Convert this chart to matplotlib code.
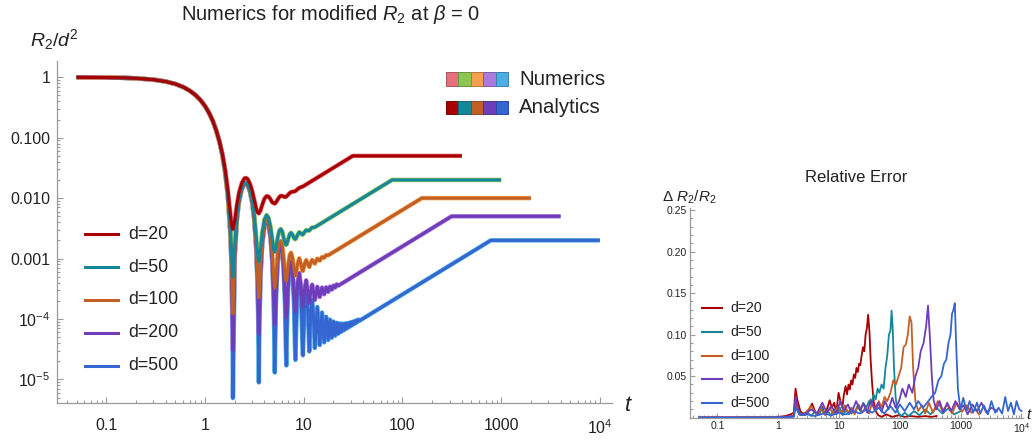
import matplotlib
matplotlib.use("Agg")
import matplotlib.pyplot as plt
import matplotlib.colors as mcolors
from matplotlib.patches import Rectangle
from matplotlib.lines import Line2D
from matplotlib.ticker import FixedLocator, FixedFormatter, LogLocator, NullFormatter, MultipleLocator

plt.rcParams['font.family'] = ['Liberation Sans', 'DejaVu Sans']
plt.rcParams['mathtext.fontset'] = 'custom'
plt.rcParams['mathtext.rm'] = 'Liberation Sans'
plt.rcParams['mathtext.it'] = 'Liberation Sans:italic'
plt.rcParams['mathtext.bf'] = 'Liberation Sans:bold'

# ------------------------------------------
# DATA  (t, R2/d^2)
# ------------------------------------------
labels = ["d=20", "d=50", "d=100", "d=200", "d=500"]
analytic_colors = ["#A80000", "#16879B", "#C25F24", "#6F3DB9", "#3565D0"]
numeric_colors = ["#E5707C", "#8DC553", "#F5A050", "#A97BDD", "#4CAFE3"]

early = [(0.05, 0.9975), (0.1, 0.990), (0.15, 0.978), (0.2, 0.961), (0.3, 0.913),
         (0.4, 0.850), (0.5, 0.775), (0.6, 0.690), (0.7, 0.599), (0.8, 0.508),
         (0.9, 0.418), (1.0, 0.333), (1.1, 0.256), (1.2, 0.188), (1.3, 0.131),
         (1.4, 0.086)]

d20 = [(1.5, 0.0535), (1.6, 0.0292), (1.7, 0.0138), (1.8, 0.00568), (1.85, 0.00379),
       (1.9, 0.00307), (1.916, 0.00305), (2.0, 0.00427), (2.1, 0.0077), (2.2, 0.0120),
       (2.35, 0.0176), (2.5, 0.0212), (2.6, 0.0216), (2.7, 0.0207), (2.85, 0.0174),
       (3.0, 0.0133), (3.15, 0.0094), (3.3, 0.0067), (3.4, 0.0058), (3.508, 0.00558),
       (3.65, 0.0063), (3.8, 0.0078), (4.0, 0.0098), (4.2, 0.0108), (4.4, 0.0106),
       (4.6, 0.0096), (4.8, 0.0085), (5.087, 0.0081), (5.25, 0.0086), (5.45, 0.0095),
       (5.65, 0.0104), (5.85, 0.0109), (6.05, 0.0109), (6.25, 0.0106), (6.45, 0.0104),
       (6.662, 0.0106), (6.95, 0.0114), (7.2, 0.0121), (7.43, 0.0126), (7.7, 0.0128),
       (7.95, 0.0128), (8.236, 0.0131), (8.6, 0.0139), (9.0, 0.0148), (9.4, 0.0152),
       (9.808, 0.0156), (31.4, 0.05), (400, 0.05)]

d50 = [(1.5, 0.0515), (1.6, 0.0271), (1.7, 0.0115), (1.8, 0.00328), (1.85, 0.00132),
       (1.9, 0.00053), (1.916, 0.000488), (2.0, 0.0016), (2.1, 0.0049), (2.2, 0.00906),
       (2.35, 0.0145), (2.5, 0.0178), (2.6, 0.0181), (2.7, 0.0170), (2.85, 0.0136),
       (3.0, 0.00927), (3.15, 0.0052), (3.3, 0.00227), (3.4, 0.00123), (3.45, 0.00098),
       (3.508, 0.000893), (3.56, 0.00098), (3.65, 0.00144), (3.8, 0.00272), (4.0, 0.00446),
       (4.2, 0.00523), (4.4, 0.00472), (4.6, 0.00341), (4.8, 0.00207), (4.95, 0.00145),
       (5.03, 0.00131), (5.087, 0.001295), (5.14, 0.001335), (5.25, 0.00156), (5.45, 0.00225),
       (5.65, 0.00288), (5.85, 0.00308), (6.05, 0.00281), (6.25, 0.00223), (6.45, 0.0018),
       (6.58, 0.00169), (6.662, 0.0017), (6.75, 0.00176), (6.95, 0.00208), (7.2, 0.00252),
       (7.43, 0.00267), (7.7, 0.00248), (7.95, 0.00219), (8.14, 0.00209), (8.236, 0.0021),
       (8.35, 0.00216), (8.6, 0.00242), (9.0, 0.00273), (9.4, 0.00259), (9.7, 0.00248),
       (9.808, 0.0025), (10.2, 0.00275), (10.58, 0.00296), (10.98, 0.00291), (11.38, 0.0029),
       (11.77, 0.0031), (12.16, 0.00327), (12.55, 0.00327), (12.952, 0.0033),
       (78.5, 0.02), (1000, 0.02)]

d100 = [(1.5, 0.0512), (1.6, 0.0268), (1.7, 0.0112), (1.8, 0.00294), (1.85, 0.00097),
        (1.9, 0.000166), (1.916, 0.000122), (2.0, 0.00122), (2.1, 0.00449), (2.2, 0.00864),
        (2.35, 0.01405), (2.5, 0.01733), (2.6, 0.01759), (2.7, 0.01653), (2.85, 0.01308),
        (3.0, 0.0087), (3.15, 0.0046), (3.3, 0.00164), (3.4, 0.000584), (3.45, 0.000323),
        (3.508, 0.000223), (3.56, 0.000303), (3.65, 0.000742), (3.8, 0.002), (4.0, 0.0037),
        (4.2, 0.00442), (4.4, 0.00388), (4.6, 0.00253), (4.8, 0.00115), (4.95, 0.000505),
        (5.03, 0.000352), (5.087, 0.000324), (5.14, 0.000353), (5.25, 0.000559), (5.45, 0.00121),
        (5.65, 0.0018), (5.85, 0.00196), (6.05, 0.00166), (6.25, 0.00104), (6.45, 0.000571),
        (6.58, 0.000434), (6.662, 0.000424), (6.75, 0.000474), (6.95, 0.000749), (7.2, 0.00114),
        (7.43, 0.00125), (7.7, 0.00101), (7.95, 0.00067), (8.14, 0.000532), (8.236, 0.000524),
        (8.35, 0.000566), (8.6, 0.000782), (9.0, 0.00101), (9.4, 0.00079), (9.7, 0.00063),
        (9.808, 0.000624), (10.2, 0.000805), (10.58, 0.000943), (10.98, 0.000817),
        (11.38, 0.000724), (11.77, 0.000849), (12.16, 0.000951), (12.55, 0.000877),
        (12.952, 0.000825), (13.73, 0.000997), (14.524, 0.000925), (15.3, 0.00106),
        (16.095, 0.00103), (16.87, 0.00114), (17.666, 0.00113), (157.1, 0.01), (2000, 0.01)]

d200 = [(1.5, 0.0511), (1.6, 0.0267), (1.7, 0.01114), (1.8, 0.00285), (1.85, 0.00088),
        (1.9, 0.000075), (1.916, 3.05e-5), (2.0, 0.00112), (2.1, 0.00439), (2.2, 0.00853),
        (2.35, 0.01394), (2.5, 0.01721), (2.6, 0.01746), (2.7, 0.0164), (2.85, 0.01295),
        (3.0, 0.00856), (3.15, 0.00445), (3.3, 0.00148), (3.4, 0.000422), (3.45, 0.000158),
        (3.508, 5.58e-5), (3.56, 0.000133), (3.65, 0.000568), (3.8, 0.00182), (4.0, 0.0035),
        (4.2, 0.00422), (4.4, 0.00367), (4.6, 0.00231), (4.8, 0.000921), (4.95, 0.000269),
        (5.03, 0.000112), (5.087, 8.1e-5), (5.14, 0.000108), (5.25, 0.000309), (5.45, 0.000947),
        (5.65, 0.00153), (5.85, 0.00168), (6.05, 0.00137), (6.25, 0.00074), (6.45, 0.000263),
        (6.58, 0.00012), (6.662, 0.000106), (6.75, 0.000151), (6.95, 0.000418), (7.2, 0.000798),
        (7.43, 0.000893), (7.7, 0.000639), (7.95, 0.000291), (8.14, 0.000144), (8.236, 0.000131),
        (8.35, 0.000167), (8.6, 0.000372), (9.0, 0.000578), (9.4, 0.000342), (9.7, 0.000166),
        (9.808, 0.000156), (10.2, 0.000318), (10.58, 0.000437), (10.98, 0.000293),
        (11.38, 0.000181), (11.77, 0.000287), (12.16, 0.000371), (12.55, 0.000278),
        (12.952, 0.000206), (13.73, 0.000342), (14.524, 0.000231), (15.3, 0.000332),
        (16.095, 0.000256), (16.87, 0.000335), (17.666, 0.000281), (18.45, 0.000344),
        (19.237, 0.000306), (20.02, 0.000358), (20.808, 0.000331), (21.59, 0.000375),
        (22.379, 0.000356), (314.2, 0.005), (4000, 0.005)]

d500 = [(1.5, 0.0511), (1.6, 0.02667), (1.7, 0.01111), (1.8, 0.002825), (1.85, 0.000855),
        (1.9, 4.98e-5), (1.916, 4.9e-6), (2.0, 0.001094), (2.1, 0.004365), (2.2, 0.0085),
        (2.35, 0.0139), (2.5, 0.01717), (2.6, 0.01742), (2.7, 0.01636), (2.85, 0.0129),
        (3.0, 0.00852), (3.15, 0.00441), (3.3, 0.001438), (3.4, 0.000377), (3.45, 0.000112),
        (3.508, 8.9e-6), (3.56, 8.5e-5), (3.65, 0.000519), (3.8, 0.001765), (4.0, 0.00345),
        (4.2, 0.004168), (4.4, 0.003614), (4.6, 0.002246), (4.8, 0.000857), (4.95, 0.000203),
        (5.03, 4.48e-5), (5.087, 1.3e-5), (5.14, 3.91e-5), (5.25, 0.000238), (5.45, 0.000874),
        (5.65, 0.001454), (5.85, 0.001605), (6.05, 0.001285), (6.25, 0.000656), (6.45, 0.000176),
        (6.58, 3.18e-5), (6.662, 1.7e-5), (6.75, 6.12e-5), (6.95, 0.000325), (7.2, 0.000701),
        (7.43, 0.000794), (7.7, 0.000536), (7.95, 0.000184), (8.14, 3.47e-5), (8.236, 2.1e-5),
        (8.35, 5.53e-5), (8.6, 0.000257), (9.0, 0.000458), (9.4, 0.000216), (9.7, 3.67e-5),
        (9.808, 2.5e-5), (10.2, 0.000182), (10.58, 0.000296), (10.98, 0.000146), (11.38, 2.9e-5),
        (11.77, 0.00013), (12.16, 0.000208), (12.55, 0.00011), (12.952, 3.3e-5), (13.73, 0.000158),
        (14.524, 3.7e-5), (15.3, 0.000128), (16.095, 4.1e-5), (16.87, 0.000109), (17.666, 4.5e-5),
        (18.45, 9.77e-5), (19.237, 4.9e-5), (20.02, 9.07e-5), (20.808, 5.3e-5), (21.59, 8.66e-5),
        (22.379, 5.7e-5), (23.16, 8.46e-5), (23.95, 6.1e-5), (24.73, 8.4e-5), (25.521, 6.5e-5),
        (26.3, 8.45e-5), (27.092, 6.9e-5), (27.87, 8.57e-5), (28.663, 7.3e-5), (29.45, 8.75e-5),
        (30.234, 7.7e-5), (31.02, 9.0e-5), (31.805, 8.1e-5), (32.59, 9.22e-5), (33.376, 8.5e-5),
        (34.16, 9.5e-5), (34.947, 8.9e-5), (35.73, 9.8e-5), (36.5, 9.3e-5),
        (785.4, 0.002), (10000, 0.002)]

# relative error (t, dR2/R2)
err20 = [(0.05, 0.0003), (0.3, 0.0003), (0.7, 0.0005), (1.0, 0.001), (1.3, 0.002), (1.6, 0.004),
         (1.8, 0.006), (1.92, 0.035), (2.05, 0.022), (2.3, 0.008), (2.7, 0.003), (3.0, 0.005),
         (3.3, 0.012), (3.6, 0.017), (4.0, 0.008), (4.4, 0.003), (4.8, 0.006), (5.3, 0.013),
         (5.8, 0.004), (6.3, 0.010), (7.0, 0.021), (7.6, 0.012), (8.3, 0.018), (9.0, 0.006),
         (9.8, 0.03), (10.5, 0.02), (11.3, 0.012), (12.0, 0.028), (12.8, 0.038), (13.5, 0.028),
         (14.3, 0.04), (15.0, 0.034), (15.8, 0.045), (16.6, 0.04), (17.5, 0.052), (18.4, 0.048),
         (19.3, 0.06), (20.3, 0.055), (21.3, 0.065), (22.3, 0.063), (23.5, 0.075), (24.7, 0.085),
         (26, 0.08), (27.3, 0.1), (28.7, 0.108), (30, 0.124), (31.5, 0.105), (33, 0.07),
         (35, 0.04), (37, 0.02), (40, 0.008), (44, 0.003), (50, 0.001), (60, 0.004),
         (75, 0.001), (95, 0.003), (120, 0.001), (150, 0.002), (200, 0.001), (260, 0.002),
         (330, 0.001), (400, 0.002)]

err50 = [(0.05, 0.0002), (0.5, 0.0002), (1.0, 0.0004), (1.5, 0.001), (1.8, 0.002), (1.92, 0.02),
         (2.1, 0.008), (2.5, 0.003), (3.0, 0.006), (3.5, 0.002), (4.0, 0.008), (4.6, 0.003),
         (5.2, 0.012), (5.8, 0.004), (6.5, 0.009), (7.3, 0.002), (8.2, 0.01), (9.2, 0.005),
         (10.3, 0.012), (11.5, 0.003), (13, 0.009), (14.5, 0.004), (16, 0.012), (18, 0.006),
         (20, 0.014), (22.5, 0.008), (25, 0.018), (28, 0.012), (31, 0.02), (34, 0.015),
         (37, 0.028), (40, 0.022), (43, 0.035), (46, 0.03), (50, 0.04), (54, 0.035), (58, 0.06),
         (62, 0.075), (66, 0.1), (70, 0.105), (73, 0.129), (76, 0.11), (80, 0.06), (85, 0.025),
         (90, 0.01), (97, 0.004), (105, 0.002), (120, 0.006), (140, 0.002), (170, 0.008),
         (210, 0.003), (260, 0.01), (320, 0.004), (400, 0.012), (500, 0.005), (620, 0.011),
         (780, 0.004), (1000, 0.008)]

err100 = [(0.05, 0.0002), (1.0, 0.0004), (1.8, 0.002), (1.92, 0.015), (2.2, 0.004), (2.8, 0.006),
          (3.5, 0.014), (4.2, 0.004), (5.0, 0.01), (6.0, 0.003), (7.0, 0.012), (8.0, 0.005),
          (9.5, 0.013), (11, 0.004), (12.5, 0.015), (14, 0.006), (16, 0.012), (18, 0.004),
          (21, 0.016), (24, 0.006), (27, 0.012), (31, 0.005), (35, 0.018), (40, 0.008),
          (45, 0.02), (50, 0.012), (56, 0.025), (62, 0.02), (70, 0.03), (78, 0.045), (86, 0.04),
          (95, 0.05), (105, 0.06), (115, 0.085), (125, 0.088), (135, 0.1), (145, 0.122),
          (155, 0.115), (165, 0.06), (180, 0.02), (200, 0.008), (230, 0.015), (260, 0.005),
          (300, 0.018), (350, 0.006), (420, 0.02), (500, 0.008), (600, 0.016), (720, 0.005),
          (860, 0.018), (1050, 0.007), (1250, 0.015), (1500, 0.006), (1750, 0.01), (2000, 0.004)]

err200 = [(0.05, 0.0002), (1.0, 0.0003), (1.8, 0.002), (1.92, 0.025), (2.2, 0.004), (2.8, 0.005),
          (3.5, 0.01), (4.3, 0.005), (5.3, 0.018), (6.3, 0.006), (7.5, 0.014), (9, 0.004),
          (10.5, 0.02), (12, 0.008), (14, 0.016), (16, 0.005), (19, 0.02), (22, 0.009),
          (25, 0.017), (29, 0.006), (33, 0.022), (38, 0.01), (44, 0.018), (50, 0.007),
          (57, 0.02), (65, 0.01), (75, 0.024), (85, 0.012), (97, 0.02), (110, 0.035),
          (125, 0.025), (140, 0.04), (160, 0.03), (180, 0.05), (200, 0.06), (220, 0.08),
          (245, 0.09), (270, 0.11), (290, 0.135), (310, 0.1), (335, 0.05), (360, 0.02),
          (400, 0.01), (450, 0.02), (520, 0.006), (600, 0.018), (700, 0.008), (820, 0.02),
          (960, 0.01), (1120, 0.015), (1300, 0.004), (1550, 0.016), (1850, 0.008),
          (2200, 0.018), (2650, 0.006), (3200, 0.012), (4000, 0.008)]

err500 = [(0.05, 0.0001), (1.0, 0.0002), (1.8, 0.001), (1.92, 0.012), (2.3, 0.003), (3.0, 0.004),
          (4.0, 0.002), (5.5, 0.005), (7.5, 0.003), (10, 0.006), (13, 0.004), (17, 0.008),
          (22, 0.005), (28, 0.01), (35, 0.006), (45, 0.012), (55, 0.005), (70, 0.014),
          (85, 0.006), (100, 0.016), (120, 0.008), (145, 0.018), (170, 0.01), (200, 0.02),
          (240, 0.012), (280, 0.018), (330, 0.025), (380, 0.03), (430, 0.045), (480, 0.05),
          (530, 0.065), (580, 0.07), (630, 0.09), (680, 0.1), (720, 0.125), (760, 0.13),
          (800, 0.138), (850, 0.08), (900, 0.035), (950, 0.02), (1000, 0.01), (1100, 0.024),
          (1250, 0.008), (1400, 0.02), (1600, 0.006), (1850, 0.018), (2100, 0.005),
          (2400, 0.015), (2800, 0.004), (3200, 0.02), (3700, 0.006), (4200, 0.012),
          (4800, 0.005), (5400, 0.025), (6000, 0.008), (6700, 0.018), (7500, 0.004),
          (8300, 0.02), (9200, 0.01), (10000, 0.008)]

curves = [d20, d50, d100, d200, d500]
errors = [err20, err50, err100, err200, err500]

W, H = 1035, 440


def fx(x):
    return x / W


def fy(y):
    return 1 - y / H


def darker(c, f=0.75):
    r, g, b = mcolors.to_rgb(c)
    return (r * f, g * f, b * f)


axis_gray = "#9a9a9a"
label_col = "#222222"

fig = plt.figure(figsize=(W / 100, H / 100), dpi=100)

# ------------------------------------------
# MAIN PANEL
# ------------------------------------------
ax = fig.add_axes([fx(56.7), fy(403), fx(611.7) - fx(56.7), fy(60.7) - fy(403)])
ax.set_xscale("log")
ax.set_yscale("log")

# numerics underneath, analytics on top, d=20 drawn last
for data, col in zip(reversed(curves), reversed(numeric_colors)):
    t, y = zip(*(early + data))
    ax.plot(t, y, color=col, lw=3.2, solid_capstyle="butt", solid_joinstyle="round")
for data, col in zip(reversed(curves), reversed(analytic_colors)):
    t, y = zip(*(early + data))
    ax.plot(t, y, color=col, lw=2.2, solid_capstyle="butt", solid_joinstyle="round")

ax.set_xlim(0.0314, 13180)
ax.set_ylim(4.07e-6, 1.88)

ax.xaxis.set_major_locator(FixedLocator([0.1, 1, 10, 100, 1000, 1e4]))
ax.xaxis.set_major_formatter(FixedFormatter(["0.1", "1", "10", "100", "1000", r"$10^4$"]))
ax.xaxis.set_minor_locator(LogLocator(base=10, subs=range(2, 10), numticks=30))
ax.xaxis.set_minor_formatter(NullFormatter())
ax.yaxis.set_major_locator(FixedLocator([1e-5, 1e-4, 1e-3, 1e-2, 1e-1, 1]))
ax.yaxis.set_major_formatter(FixedFormatter([r"$10^{-5}$", r"$10^{-4}$", "0.001", "0.010", "0.100", "1"]))
ax.yaxis.set_minor_locator(LogLocator(base=10, subs=range(2, 10), numticks=30))
ax.yaxis.set_minor_formatter(NullFormatter())

for s in ["top", "right"]:
    ax.spines[s].set_visible(False)
for s in ["left", "bottom"]:
    ax.spines[s].set_color(axis_gray)
    ax.spines[s].set_linewidth(0.9)
ax.tick_params(which="both", direction="in", color=axis_gray, width=0.8)
ax.tick_params(which="major", length=4.5, labelsize=11.5, labelcolor=label_col)
ax.tick_params(which="minor", length=2.5)
ax.tick_params(axis="x", which="major", pad=11)
ax.tick_params(axis="y", which="major", pad=4.5)

fig.text(fx(30), fy(40), r"$R_2/d^2$", fontsize=14, ha="left", va="center", color=label_col)
fig.text(fx(624), fy(405), r"$t$", fontsize=16, ha="left", va="center", color=label_col)
fig.text(fx(331), fy(14), r"Numerics for modified $R_2$ at $\beta$ = 0", fontsize=14.5,
         ha="center", va="center", color=label_col)

# d legend (left)
for i, (lab, col) in enumerate(zip(labels, analytic_colors)):
    yy = 234.3 + i * 32.85
    fig.add_artist(Line2D([fx(85), fx(118)], [fy(yy), fy(yy)], color=col, lw=2.2,
                          transform=fig.transFigure))
    fig.text(fx(128), fy(yy), lab, fontsize=12.8, ha="left", va="center", color=label_col)

# numerics / analytics swatch legend
for row, (name, cols, ytop) in enumerate([("Numerics", numeric_colors, 72.3),
                                          ("Analytics", analytic_colors, 100.7)]):
    for i, c in enumerate(cols):
        x0 = 446 + i * 12.4
        fig.add_artist(Rectangle((fx(x0), fy(ytop + 13.8)), 12.4 / W, 13.8 / H,
                                 facecolor=c, edgecolor=darker(c), lw=0.7,
                                 transform=fig.transFigure))
    fig.text(fx(519), fy(ytop + 7.2), name, fontsize=14.7, ha="left", va="center",
             color=label_col)

# ------------------------------------------
# RELATIVE ERROR INSET
# ------------------------------------------
ax2 = fig.add_axes([fx(690), fy(417.7), fx(1023) - fx(690), fy(208.5) - fy(417.7)])
ax2.set_xscale("log")
for data, col in zip(errors, analytic_colors):
    t, e = zip(*data)
    ax2.plot(t, e, color=col, lw=1.3)

ax2.set_xlim(0.0353, 10590)
ax2.set_ylim(0, 0.252)
ax2.xaxis.set_major_locator(FixedLocator([0.1, 1, 10, 100, 1000, 1e4]))
ax2.xaxis.set_major_formatter(FixedFormatter(["0.1", "1", "10", "100", "1000", r"$10^4$"]))
ax2.xaxis.set_minor_locator(LogLocator(base=10, subs=range(2, 10), numticks=30))
ax2.xaxis.set_minor_formatter(NullFormatter())
ax2.yaxis.set_major_locator(FixedLocator([0.05, 0.10, 0.15, 0.20, 0.25]))
ax2.yaxis.set_major_formatter(FixedFormatter(["0.05", "0.10", "0.15", "0.20", "0.25"]))
ax2.yaxis.set_minor_locator(MultipleLocator(0.01))

for s in ["top", "right"]:
    ax2.spines[s].set_visible(False)
for s in ["left", "bottom"]:
    ax2.spines[s].set_color(axis_gray)
    ax2.spines[s].set_linewidth(0.9)
ax2.tick_params(which="both", direction="in", color=axis_gray, width=0.8)
ax2.tick_params(which="major", length=3.5, labelsize=7.5, labelcolor=label_col, pad=2.4)
ax2.tick_params(which="minor", length=2)

fig.text(fx(856), fy(177), "Relative Error", fontsize=12, ha="center", va="center",
         color=label_col)
fig.text(fx(662), fy(197), r"$\Delta\ R_2/R_2$", fontsize=11, ha="left", va="center",
         color=label_col)
fig.text(fx(1026), fy(415), r"$t$", fontsize=11, ha="left", va="center", color=label_col)

for i, (lab, col) in enumerate(zip(labels, analytic_colors)):
    yy = 307.7 + i * 23.9
    fig.add_artist(Line2D([fx(701.7), fx(721.7)], [fy(yy), fy(yy)], color=col, lw=1.5,
                          transform=fig.transFigure))
    fig.text(fx(730), fy(yy), lab, fontsize=10.1, ha="left", va="center", color=label_col)

fig.savefig("out.png", dpi=100)
